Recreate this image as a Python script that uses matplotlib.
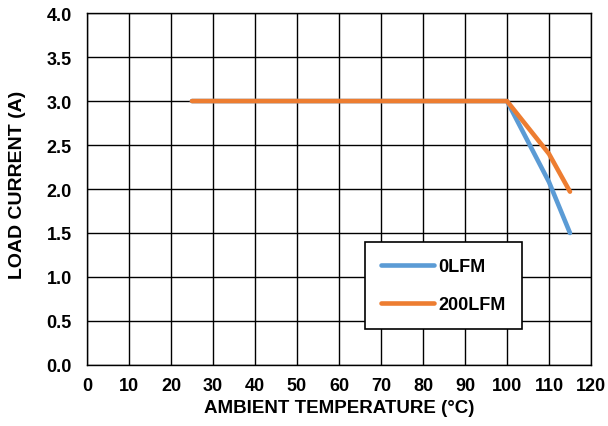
import numpy as np
import matplotlib.pyplot as plt

plt.rcParams['font.family'] = ['Liberation Sans', 'DejaVu Sans']
plt.rcParams['font.weight'] = 'bold'

temp_0lfm = [25, 100, 110, 115]
current_0lfm = [3.0, 3.0, 2.08, 1.5]
temp_200lfm = [25, 100, 110, 115]
current_200lfm = [3.0, 3.0, 2.4, 1.97]

fig = plt.figure(figsize=(6.08, 4.27), dpi=100)
ax = fig.add_axes([0.143, 0.143, 0.829, 0.824])

ax.plot(temp_0lfm, current_0lfm, color='#5b9bd5', lw=3.3, solid_capstyle='round', label='0LFM')
ax.plot(temp_200lfm, current_200lfm, color='#ed7d31', lw=3.3, solid_capstyle='round', label='200LFM')

ax.set_xlim(0, 120)
ax.set_ylim(0, 4)
ax.set_xticks(np.arange(0, 121, 10))
ax.set_yticks(np.arange(0, 4.01, 0.5))
ax.set_yticklabels([f'{v:.1f}' for v in np.arange(0, 4.01, 0.5)])
ax.grid(True, color='black', lw=1)
ax.set_axisbelow(True)
ax.tick_params(length=0, labelsize=13)
ax.tick_params(axis='x', pad=9)
ax.tick_params(axis='y', pad=11)
for s in ax.spines.values():
    s.set_color('black')
    s.set_linewidth(1)

ax.set_xlabel('AMBIENT TEMPERATURE (°C)', fontsize=13.5, fontweight='bold', labelpad=3)
ax.set_ylabel('LOAD CURRENT (A)', fontsize=14, fontweight='bold', va='center')
ax.yaxis.set_label_coords(-0.137, 0.514)

leg = ax.legend(loc='upper left', bbox_to_anchor=(0.552, 0.349), borderaxespad=0,
                fontsize=13, frameon=True, fancybox=False, edgecolor='black',
                handlelength=2.9, labelspacing=1.15, borderpad=0.9, handletextpad=0.25)
leg.get_frame().set_linewidth(1.2)
leg.get_frame().set_alpha(1)
for line in leg.get_lines():
    line.set_solid_capstyle('round')

fig.savefig('out.png', dpi=100)
